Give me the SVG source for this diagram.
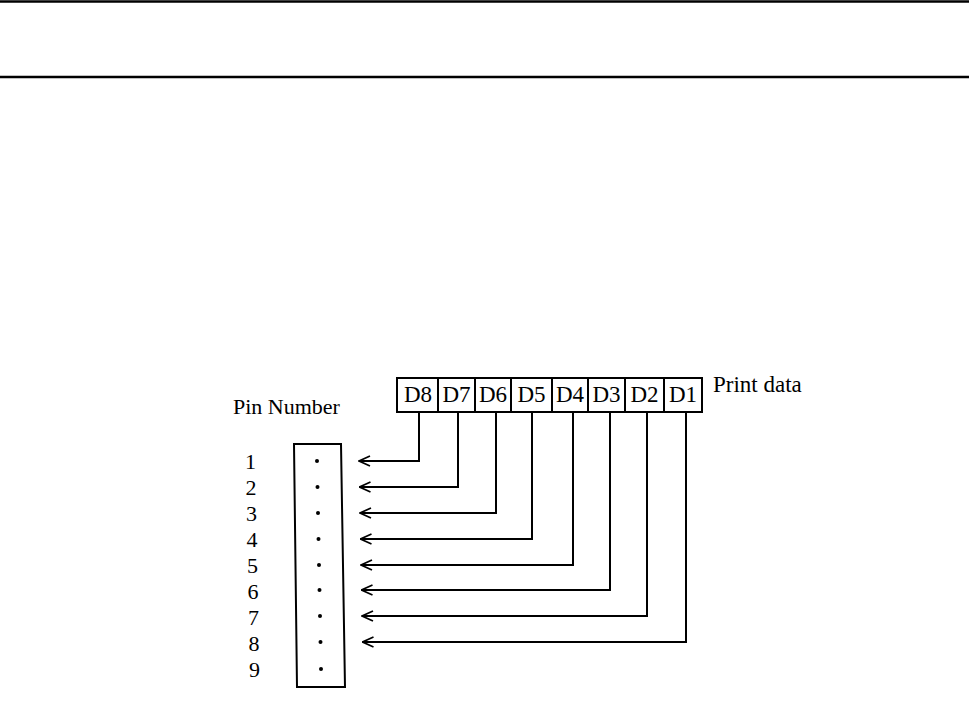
<svg xmlns="http://www.w3.org/2000/svg" width="969" height="702" viewBox="0 0 969 702">
<defs>
<style>
.t{font-family:"Liberation Serif","Times New Roman",serif;fill:#000;}
.lbl{font-size:22px;}
.pd{font-size:23px;}
.d{font-size:23px;text-anchor:middle;}
.box{fill:#fff;stroke:#000;stroke-width:2;}
.wire{fill:none;stroke:#000;stroke-width:2;marker-end:url(#arr);}
.dot{fill:#000;}
</style>
<marker id="arr" viewBox="0 0 13 12" refX="12" refY="6" markerWidth="13" markerHeight="12" markerUnits="userSpaceOnUse" orient="auto">
<path d="M1,1 L12,6 L1,11" fill="none" stroke="#000" stroke-width="1.7"/>
</marker>
</defs>
<rect width="969" height="702" fill="#fff"/>
<g id="rules">
<line x1="0" y1="1.5" x2="969" y2="1.5" stroke="#000" stroke-width="2.5"/>
<line x1="0" y1="77" x2="969" y2="77" stroke="#000" stroke-width="2.5"/>
</g>
<g id="print-data">
<rect class="box" x="397" y="378" width="305" height="34"/>
<line x1="438" y1="378" x2="438" y2="412" stroke="#000" stroke-width="2"/>
<line x1="475" y1="378" x2="475" y2="412" stroke="#000" stroke-width="2"/>
<line x1="511" y1="378" x2="511" y2="412" stroke="#000" stroke-width="2"/>
<line x1="552" y1="378" x2="552" y2="412" stroke="#000" stroke-width="2"/>
<line x1="588" y1="378" x2="588" y2="412" stroke="#000" stroke-width="2"/>
<line x1="625" y1="378" x2="625" y2="412" stroke="#000" stroke-width="2"/>
<line x1="664" y1="378" x2="664" y2="412" stroke="#000" stroke-width="2"/>
<text class="t d" x="418" y="402">D8</text>
<text class="t d" x="456.5" y="402">D7</text>
<text class="t d" x="493" y="402">D6</text>
<text class="t d" x="531.5" y="402">D5</text>
<text class="t d" x="570" y="402">D4</text>
<text class="t d" x="606.5" y="402">D3</text>
<text class="t d" x="644.5" y="402">D2</text>
<text class="t d" x="683" y="402">D1</text>
<text class="t pd" x="713" y="392">Print data</text>
</g>
<g id="pin-connector">
<polygon class="box" points="294,444 341,444 345,687 297,687"/>
<circle class="dot" cx="317" cy="461" r="2"/>
<circle class="dot" cx="317.5" cy="487" r="2"/>
<circle class="dot" cx="318" cy="513" r="2"/>
<circle class="dot" cx="318.5" cy="539" r="2"/>
<circle class="dot" cx="319" cy="565" r="2"/>
<circle class="dot" cx="319.5" cy="590" r="2"/>
<circle class="dot" cx="320" cy="616" r="2"/>
<circle class="dot" cx="320.5" cy="642" r="2"/>
<circle class="dot" cx="321" cy="669" r="2"/>
<text class="t lbl" x="233" y="414">Pin Number</text>
<text class="t lbl" x="245" y="469">1</text>
<text class="t lbl" x="245.5" y="495">2</text>
<text class="t lbl" x="246" y="521">3</text>
<text class="t lbl" x="246.5" y="547">4</text>
<text class="t lbl" x="247" y="573">5</text>
<text class="t lbl" x="247.5" y="599">6</text>
<text class="t lbl" x="248" y="625">7</text>
<text class="t lbl" x="248.5" y="651">8</text>
<text class="t lbl" x="249" y="677">9</text>
</g>
<g id="connectors">
<polyline class="wire" points="419,412 419,461 359,461"/>
<polyline class="wire" points="458,412 458,487 359.5,487"/>
<polyline class="wire" points="496,412 496,513 360,513"/>
<polyline class="wire" points="532,412 532,539 360.5,539"/>
<polyline class="wire" points="573,412 573,565 361,565"/>
<polyline class="wire" points="610,412 610,590 361.5,590"/>
<polyline class="wire" points="647,412 647,616 362,616"/>
<polyline class="wire" points="686,412 686,642 362.5,642"/>
</g>
</svg>
